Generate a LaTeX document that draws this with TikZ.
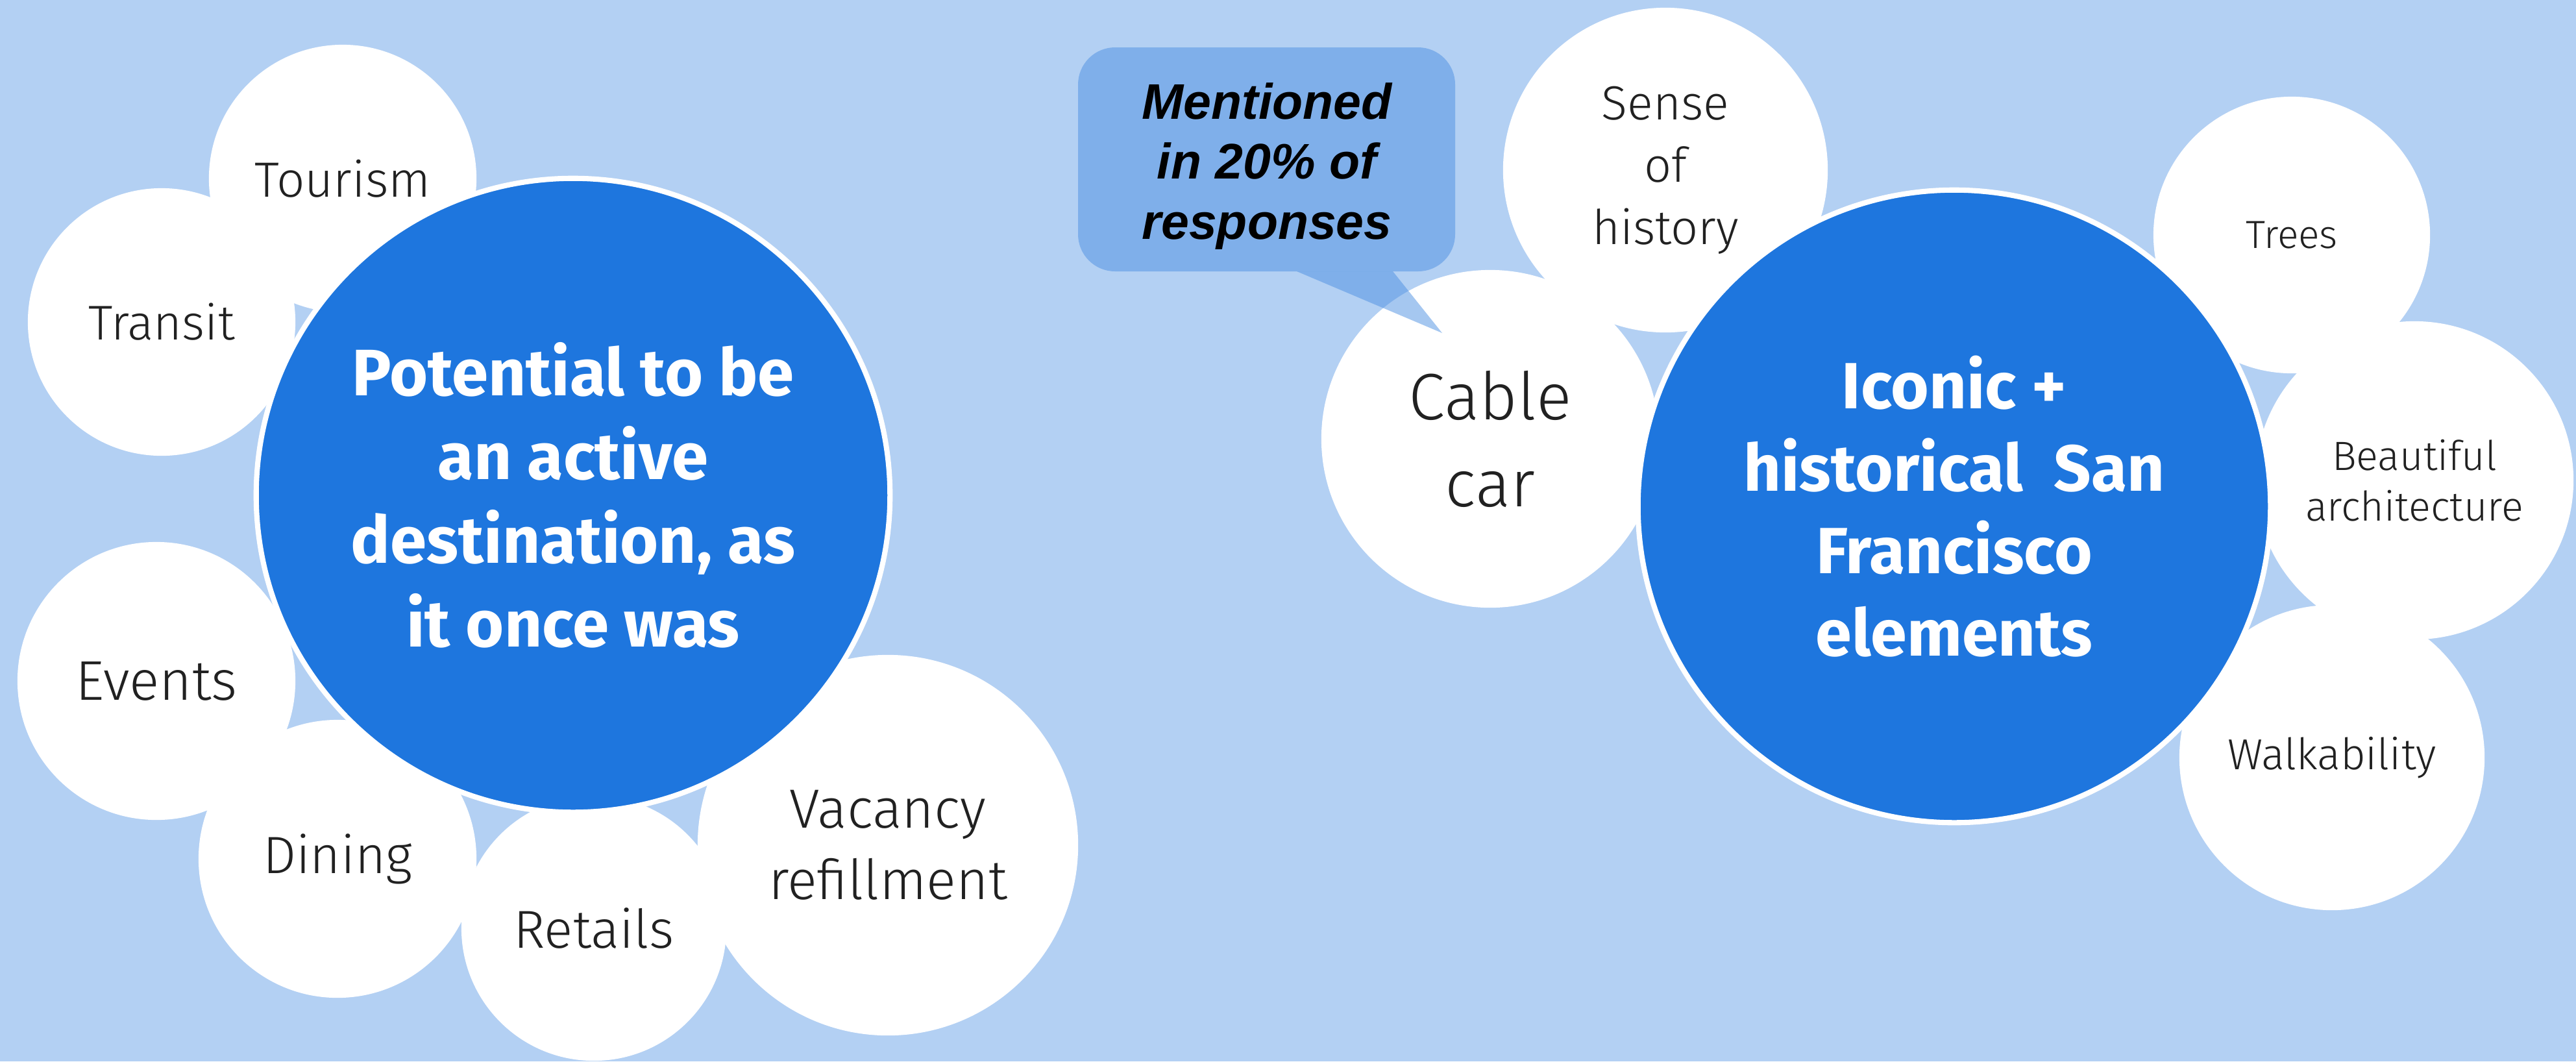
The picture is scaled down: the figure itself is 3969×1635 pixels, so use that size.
\documentclass[tikz,border=0pt]{standalone}
\usepackage{fontspec}
\setmainfont{Fira Sans}
\IfFontExistsTF{Fira Sans Light}{\newfontfamily\labelfont{Fira Sans Light}}{\newfontfamily\labelfont{Fira Sans}}
\newfontfamily\calloutfont{Liberation Sans}
\definecolor{bgblue}{HTML}{B3D0F3}
\definecolor{hubblue}{HTML}{1E76DE}
\definecolor{callblue}{HTML}{4D90E2}
\definecolor{textdark}{HTML}{212121}
\begin{document}
\begin{tikzpicture}[x=0.01cm,y=-0.01cm,
  bubble/.style={circle, fill=white, inner sep=0pt, align=center, text=textdark},
  hub/.style={circle, fill=hubblue, draw=white, line width=2.3pt, inner sep=0pt, align=center, text=white, font=\bfseries\fontsize{28.8}{36.7}\selectfont},
  calltext/.style={align=center, text=black, font=\calloutfont\bfseries\itshape\fontsize{21.9}{26.2}\selectfont}]
\fill[bgblue] (0,0) rectangle (3969,1635);
\useasboundingbox (0,0) rectangle (3969,1635);

% left cluster bubbles
\node[bubble, minimum size=4.12cm, font=\labelfont\fontsize{21.7}{24}\selectfont] (tourism) at (528,275) {Tourism};
\node[bubble, minimum size=4.12cm, font=\labelfont\fontsize{21.4}{24}\selectfont] (transit) at (249,496) {Transit};
\node[bubble, minimum size=4.28cm, font=\labelfont\fontsize{24.5}{26}\selectfont] (events) at (241,1049) {Events};
\node[bubble, minimum size=4.28cm, font=\labelfont\fontsize{23}{27}\selectfont] (dining) at (520,1323) {Dining};
\node[bubble, minimum size=4.08cm, font=\labelfont\fontsize{23.4}{26}\selectfont] (retails) at (915,1430) {Retails};
\node[bubble, minimum size=5.86cm, font=\labelfont\fontsize{24.2}{31.3}\selectfont] (vacancy) at (1368,1302) {Vacancy\\refillment};

% right cluster bubbles
\node[bubble, minimum size=5.00cm, font=\labelfont\fontsize{21}{27.3}\selectfont] (sense) at (2566,262) {Sense\\of\\history};
\node[bubble, minimum size=5.20cm, font=\labelfont\fontsize{28.8}{38.1}\selectfont] (cable) at (2296,676) {Cable\\car};
\node[bubble, minimum size=4.26cm, font=\labelfont\fontsize{17.2}{22}\selectfont] (trees) at (3531,362) {Trees};
\node[bubble, minimum size=4.70cm, font=\labelfont\fontsize{19}{23}\selectfont] (walk) at (3593,1167) {Walkability};
\node[bubble, minimum size=4.90cm, font=\labelfont\fontsize{17.9}{22.2}\selectfont] (beautiful) at (3720,740) {Beautiful\\architecture};

% hubs
\node[hub, minimum size=9.76cm] (hubleft) at (883,763) {Potential to be\\an active\\destination, as\\it once was};
\node[hub, minimum size=9.74cm, font=\bfseries\fontsize{28.6}{36.1}\selectfont] (hubright) at (3011,780) {Iconic +\\historical~~San\\Francisco\\elements};

% callout
\fill[callblue, fill opacity=0.5, rounded corners=0.57cm]
  (1661,73) rectangle (2242,418);
\fill[callblue, fill opacity=0.5]
  (1998,418) -- (2222,513) -- (2146,418) -- cycle;
\node[calltext] (callout) at (1952,256) {Mentioned\\in 20\% of\\responses};
\end{tikzpicture}
\end{document}
